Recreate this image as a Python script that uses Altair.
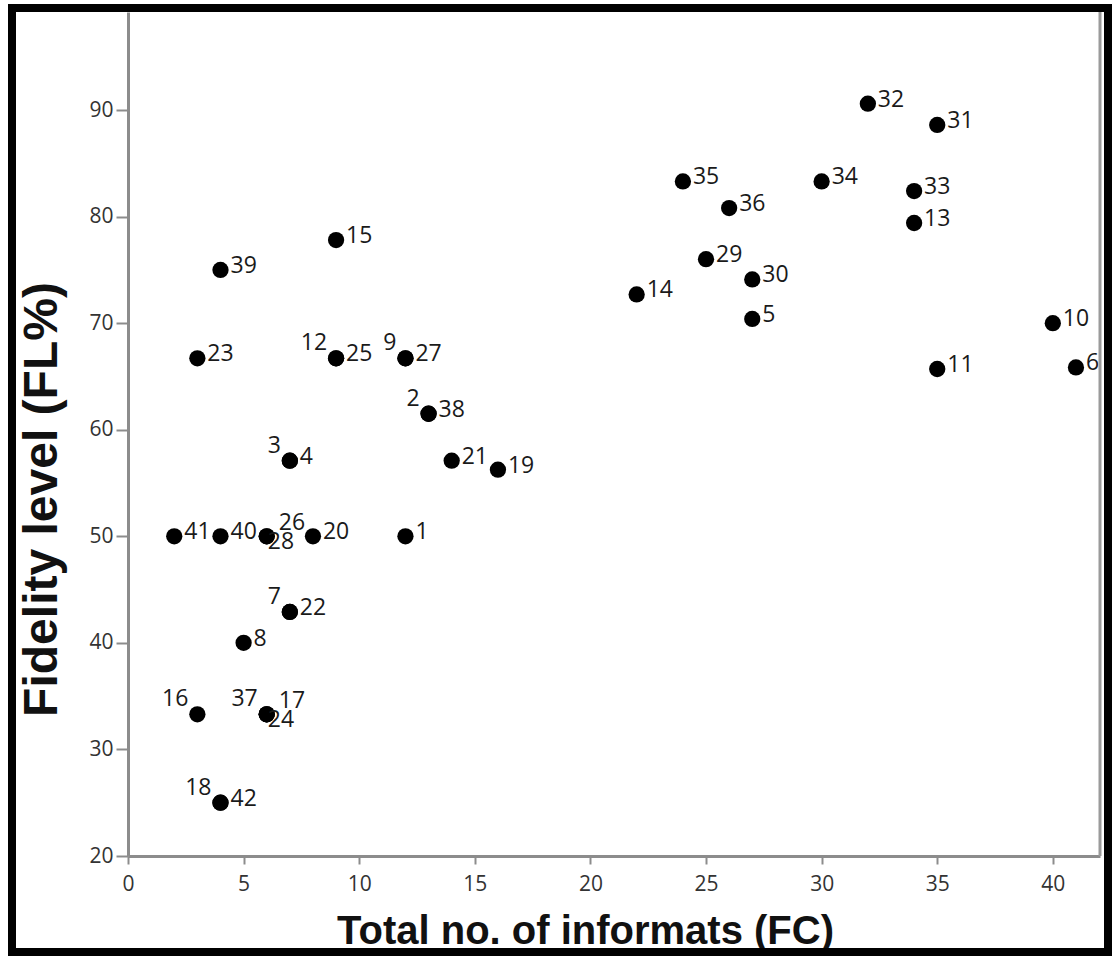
import altair as alt
import pandas as pd

# ---- data ----
labels = ["1", "2", "38", "3", "4", "5", "6", "7", "22", "8",
          "9", "27", "10", "11", "12", "25", "13", "14", "15", "16",
          "17", "24", "37", "18", "42", "19", "20", "21", "23", "26",
          "28", "29", "30", "31", "32", "33", "34", "35", "36", "39",
          "40", "41"]
fc = [12, 13, 13, 7, 7, 27, 41, 7, 7, 5,
      12, 12, 40, 35, 9, 9, 34, 22, 9, 3,
      6, 6, 6, 4, 4, 16, 8, 14, 3, 6,
      6, 25, 27, 35, 32, 34, 30, 24, 26, 4,
      4, 2]
fl = [50.0, 61.5, 61.5, 57.1, 57.1, 70.4, 65.85, 42.9, 42.9, 40.0,
      66.7, 66.7, 70.0, 65.7, 66.7, 66.7, 79.4, 72.7, 77.8, 33.3,
      33.3, 33.3, 33.3, 25.0, 25.0, 56.25, 50.0, 57.1, 66.7, 50.0,
      50.0, 76.0, 74.1, 88.6, 90.6, 82.4, 83.3, 83.3, 80.8, 75.0,
      50.0, 50.0]
# label placement relative to the dot: R right, L upper-left, UR upper-right, BR lower-right
place = ["R", "L", "R", "L", "R", "R", "R", "L", "R", "R",
         "L", "R", "R", "R", "L", "R", "R", "R", "R", "L",
         "UR", "BR", "L", "L", "R", "R", "R", "R", "R", "UR",
         "BR", "R", "R", "R", "R", "R", "R", "R", "R", "R",
         "R", "R"]
x_ticks = [0, 5, 10, 15, 20, 25, 30, 35, 40]
y_ticks = [20, 30, 40, 50, 60, 70, 80, 90]

df = pd.DataFrame({"label": labels, "FC": fc, "FL": fl, "place": place})

W, H = 972, 844
AX = "#8c8c8c"
LABEL_FONT = "Open Sans"
TITLE_FONT = "Liberation Sans"

xscale = alt.Scale(domain=[0, 42.04], nice=False, zero=False)
yscale = alt.Scale(domain=[20, 99.2], nice=False, zero=False)

xenc = alt.X("FC:Q", scale=xscale,
             axis=alt.Axis(values=x_ticks, title="Total no. of informats (FC)",
                           grid=False, domainColor=AX, domainWidth=3,
                           tickColor=AX, tickWidth=2, tickSize=8,
                           labelFont=LABEL_FONT, labelFontSize=21, labelColor="#333333",
                           labelPadding=9, labelFlush=False,
                           titleFont=TITLE_FONT, titleFontSize=40, titleFontWeight="bold",
                           titleColor="#111111", titleX=457, titleY=87,
                           titleAlign="center", titleBaseline="alphabetic"))
yenc = alt.Y("FL:Q", scale=yscale,
             axis=alt.Axis(values=y_ticks, title="Fidelity level (FL%)",
                           grid=False, domainColor=AX, domainWidth=3,
                           tickColor=AX, tickWidth=2, tickSize=12,
                           labelFont=LABEL_FONT, labelFontSize=21, labelColor="#333333",
                           labelPadding=3, labelFlush=False,
                           titleFont=TITLE_FONT, titleFontSize=48, titleFontWeight="bold",
                           titleColor="#111111", titleX=-72, titleY=487, titleAngle=270,
                           titleAlign="center", titleBaseline="alphabetic"))

base = alt.Chart(df)

points = base.mark_circle(size=265, color="black", opacity=1).encode(x=xenc, y=yenc)

offsets = {"R": (10, 3, "left"), "L": (-9, -8, "right"),
           "UR": (12, -6, "left"), "BR": (1, 13, "left")}
texts = []
for key, (dx, dy, al) in offsets.items():
    texts.append(
        base.transform_filter(alt.datum.place == key)
        .mark_text(dx=dx, dy=dy, align=al, baseline="alphabetic", font=LABEL_FONT,
                   fontSize=23, color="#1a1a1a", clip=True)
        .encode(x=alt.X("FC:Q", scale=xscale), y=alt.Y("FL:Q", scale=yscale), text="label:N")
    )

one = alt.Data(values=[{"k": 1}])
right_edge = alt.Chart(one).mark_rule(color="#9a9a9a", strokeWidth=3).encode(
    x=alt.value(W), y=alt.value(0), y2=alt.value(H))
border = alt.Chart(one).mark_rect(fillOpacity=0, stroke="black", strokeWidth=8).encode(
    x=alt.value(-116), x2=alt.value(980), y=alt.value(-4), y2=alt.value(940))

chart = alt.layer(points, *texts, right_edge, border).properties(
    width=W, height=H,
    autosize=alt.AutoSizeParams(type="none"),
    padding={"left": 128, "top": 12, "right": 17, "bottom": 100},
    background="white",
).configure_view(stroke=None)

chart.save("out.html", embed_options={"renderer": "svg", "actions": False})
